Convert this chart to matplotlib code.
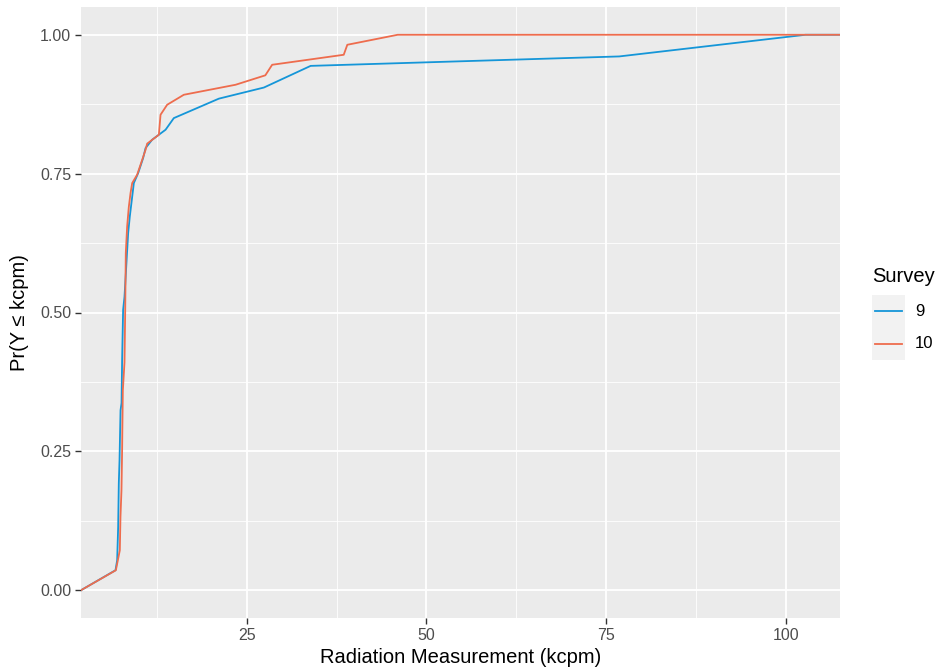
import numpy as np
import matplotlib
matplotlib.use("Agg")
import matplotlib.pyplot as plt
from matplotlib.lines import Line2D
from matplotlib.patches import Rectangle

plt.rcParams['font.family'] = ['Liberation Sans', 'DejaVu Sans']

# ECDF vertices (kcpm, cumulative probability)
s9_x = [6.77, 7.00, 7.14, 7.23, 7.33, 7.47, 7.61, 7.69, 7.83, 8.02, 8.53, 8.76,
        9.32, 9.92, 10.61, 10.95, 11.86, 13.73, 14.88, 21.14, 27.40, 33.9, 76.8, 102.7]
s9_y = [0.036, 0.054, 0.114, 0.193, 0.234, 0.324, 0.337, 0.414, 0.505, 0.528, 0.643, 0.673,
        0.733, 0.751, 0.778, 0.796, 0.811, 0.829, 0.850, 0.885, 0.905, 0.944, 0.961, 1.0]

s10_x = [6.82, 7.37, 7.46, 7.60, 7.69, 7.72, 7.79, 8.02, 8.12, 8.20, 8.39, 8.62, 8.86,
         9.09, 9.78, 10.25, 10.95, 11.17, 12.8, 13.03, 13.95, 16.27, 23.46, 27.6,
         28.55, 38.5, 39.0, 46.0]
s10_y = [0.036, 0.072, 0.132, 0.180, 0.252, 0.288, 0.360, 0.410, 0.505, 0.607, 0.655, 0.690, 0.715,
         0.733, 0.748, 0.766, 0.793, 0.804, 0.820, 0.856, 0.874, 0.892, 0.910, 0.927,
         0.946, 0.964, 0.982, 1.0]

surveys = ['9', '10']
colors = ['#1596D8', '#EE6C4D']

W, H = 937, 671
fig = plt.figure(figsize=(W / 100, H / 100), dpi=100)
ax = fig.add_axes([81 / W, 1 - 618 / H, (840 - 81) / W, (618 - 7) / H])
ax.set_facecolor('#EBEBEB')

# ggplot-style 5% expansion
xmin = min(min(s9_x), min(s10_x))
xmax = max(max(s9_x), max(s10_x))
pad = 0.05 * (xmax - xmin)
xlo, xhi = xmin - pad, xmax + pad
ax.set_xlim(xlo, xhi)
ax.set_ylim(-0.05, 1.05)

# padded ecdf: runs from -Inf at 0 to +Inf at 1
for xs, ys, c in [(s9_x, s9_y, colors[0]), (s10_x, s10_y, colors[1])]:
    ax.plot([xlo] + xs + [xhi], [0] + ys + [1], color=c, lw=1.3, zorder=3,
            solid_joinstyle='round')

ax.set_xticks([25, 50, 75, 100])
ax.set_xticks([12.5, 37.5, 62.5, 87.5], minor=True)
ax.set_yticks([0, 0.25, 0.5, 0.75, 1.0])
ax.set_yticklabels(['0.00', '0.25', '0.50', '0.75', '1.00'])
ax.set_yticks([0.125, 0.375, 0.625, 0.875], minor=True)
ax.grid(which='major', color='white', lw=1.3)
ax.grid(which='minor', color='white', lw=0.6)
ax.set_axisbelow(True)
for sp in ax.spines.values():
    sp.set_visible(False)
ax.tick_params(which='major', length=4, width=1, color='#333333',
               labelsize=11.5, labelcolor='#4D4D4D', pad=3)
ax.tick_params(which='minor', length=0)

ax.set_xlabel('Radiation Measurement (kcpm)', fontsize=14.5, labelpad=4)
ax.set_ylabel('Pr(Y ≤ kcpm)', fontsize=14.5, labelpad=8)

# legend, drawn ggplot style
fig.text(872 / W, 1 - 277 / H, 'Survey', fontsize=14.5, va='center', ha='left')
fig.add_artist(Rectangle((872 / W, 1 - 360 / H), 33 / W, 65 / H,
                         transform=fig.transFigure, color='#F2F2F2', lw=0))
for i, (lab, c) in enumerate(zip(surveys, colors)):
    yy = 1 - (311 + 33 * i) / H
    fig.add_artist(Line2D([875 / W, 902 / W], [yy, yy], color=c, lw=1.3,
                          transform=fig.transFigure))
    fig.text(915 / W, yy, lab, fontsize=12, va='center', ha='left')

fig.savefig('out.png', dpi=100)
